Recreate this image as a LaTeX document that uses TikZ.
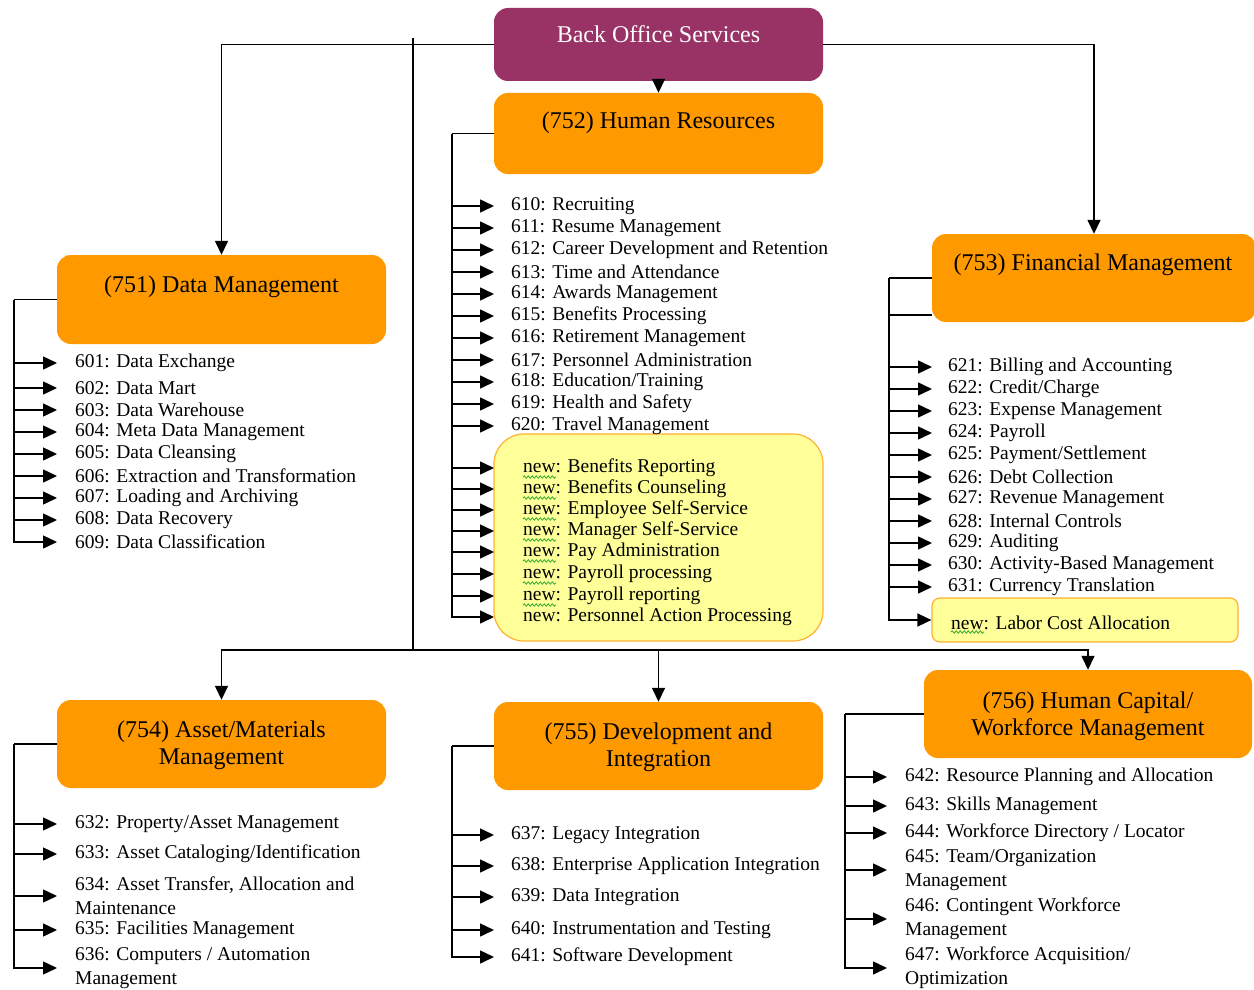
\documentclass[tikz,border=0pt]{standalone}
\usepackage{fontspec}
\setmainfont{Liberation Serif}
\usetikzlibrary{arrows.meta,decorations.pathmorphing,calc}
\definecolor{boxor}{HTML}{FF9900}
\definecolor{bospurple}{HTML}{993366}
\definecolor{newyel}{HTML}{FFFF99}
\definecolor{newbord}{HTML}{FFB030}
\definecolor{squig}{HTML}{33AA33}
\begin{document}
\begin{tikzpicture}[x=1pt,y=-1pt,
  catbox/.style={draw=none, fill=boxor, rounded corners=14pt, inner sep=0},
  title/.style={font=\fontsize{24}{27}\selectfont, align=center, inner sep=0, yshift=-3pt},
  item/.style={font=\fontsize{19.5}{24}\selectfont, anchor=west, inner sep=0, align=left, yshift=-2pt},
  conn/.style={line width=1.5pt, black},
  arr/.style={conn, -{Triangle[length=14pt,width=13pt]}},
  wavy/.style={draw=squig, line width=0.8pt, decorate, decoration={snake, amplitude=1.2pt, segment length=4pt}}
]
\useasboundingbox (0,0) rectangle (1254,990);
% boxes
\node[catbox, fill=bospurple, minimum width=329pt, minimum height=73pt] (bos) at (658.5,44.5) {};
\node[title, text=white] (bost) at (658.5,31) {Back Office Services};
\node[catbox, minimum width=329pt, minimum height=81pt] (hr) at (658.5,133.5) {};
\node[title] (hrt) at (658.5,120) {(752) Human Resources};
\node[catbox, minimum width=329pt, minimum height=89pt] (dm) at (221.5,299.5) {};
\node[title] (dmt) at (221.5,284) {(751) Data Management};
\node[catbox, minimum width=324pt, minimum height=88pt] (fm) at (1094,278) {};
\node[title] (fmt) at (1093,262) {(753) Financial Management};
\node[catbox, minimum width=329pt, minimum height=88pt] (am) at (221.5,744) {};
\node[title] (amt) at (221.5,742) {(754) Asset/Materials\\Management};
\node[catbox, minimum width=329pt, minimum height=88pt] (di) at (658.5,746) {};
\node[title] (dit) at (658.5,744) {(755) Development and\\Integration};
\node[catbox, minimum width=328pt, minimum height=88pt] (hc) at (1088,714) {};
\node[title] (hct) at (1088,713) {(756) Human Capital/\\Workforce Management};
\node[draw=newbord, line width=1.2pt, fill=newyel, rounded corners=30pt, minimum width=329pt, minimum height=207pt, inner sep=0] (yhr) at (658.5,537.5) {};
\node[draw=newbord, line width=1.2pt, fill=newyel, rounded corners=8pt, minimum width=306pt, minimum height=44pt, inner sep=0] (yfm) at (1085,620) {};

% top connectors
\draw[arr] (bos.west) -| (dm.north);
\draw[arr] (bos.east) -| (fm.north);
\draw[arr] (bos.south) -- (hr.north);
\coordinate (trunktop) at (413,38);
\coordinate (trunk) at (413,650);
\draw[conn] (trunktop) -- (trunk);
\draw[arr] (trunk) -| (am.north);
\draw[arr] (trunk) -| (di.north);
\draw[arr] (trunk) -| (hc.north);

% 751
\coordinate (dmbus) at (14,299.5);
\draw[conn] (dm.west) -- (dmbus);
\foreach \i/\y/\t in {1/361/{601: Data Exchange},2/386/{602: Data Mart},3/408/{603: Data Warehouse},4/430/{604: Meta Data Management},5/452/{605: Data Cleansing},6/474/{606: Extraction and Transformation},7/496/{607: Loading and Archiving},8/518/{608: Data Recovery},9/540/{609: Data Classification}}{
  \node[item] (d\i) at (75,\y) {\t};
  \draw[arr] (dmbus) |- ([xshift=-18pt]d\i.west);
}

% 752
\coordinate (hrbus) at (452,133.5);
\draw[conn] (hr.west) -- (hrbus);
\foreach \i/\y/\t in {0/204/{610: Recruiting},1/226/{611: Resume Management},2/248/{612: Career Development and Retention},3/270/{613: Time and Attendance},4/292/{614: Awards Management},5/314/{615: Benefits Processing},6/336/{616: Retirement Management},7/358/{617: Personnel Administration},8/380/{618: Education/Training},9/402/{619: Health and Safety},10/424/{620: Travel Management}}{
  \node[item] (h\i) at (511,\y) {\t};
  \draw[arr] (hrbus) |- ([xshift=-17pt]h\i.west);
}
\foreach \i/\y/\t in {1/466/{Benefits Reporting},2/487/{Benefits Counseling},3/508/{Employee Self-Service},4/529/{Manager Self-Service},5/550/{Pay Administration},6/572/{Payroll processing},7/594/{Payroll reporting},8/615/{Personnel Action Processing}}{
  \node[item] (n\i) at (523,\y) {new: \t};
  \draw[arr] (hrbus) |- ([xshift=-29pt]n\i.west);
}
\foreach \i in {1,...,7}{
  \draw[wavy] ([yshift=-9pt]n\i.west) -- ++(33,0);
}

% 753
\coordinate (fmbus) at (889,278);
\coordinate (fmstub) at (889,315);
\draw[conn] (fm.west) -- (fmbus);
\draw[conn] (fmstub) -- (fmstub -| fm.west);
\foreach \i/\y/\t in {1/365/{621: Billing and Accounting},2/387/{622: Credit/Charge},3/409/{623: Expense Management},4/431/{624: Payroll},5/453/{625: Payment/Settlement},6/475/{626: Debt Collection},7/497/{627: Revenue Management},8/519/{628: Internal Controls},9/541/{629: Auditing},10/563/{630: Activity-Based Management},11/585/{631: Currency Translation}}{
  \node[item] (f\i) at (948,\y) {\t};
  \draw[arr] (fmbus) |- ([xshift=-16pt]f\i.west);
}
\draw[arr] (fmbus) |- (yfm.west);
\node[item] (fnew) at (951,621) {new: Labor Cost Allocation};
\draw[wavy] ([yshift=-9pt]fnew.west) -- ++(33,0);

% 754
\coordinate (ambus) at (14,744);
\draw[conn] (am.west) -- (ambus);
\foreach \i/\y/\t in {1/822/{632: Property/Asset Management},2/852/{633: Asset Cataloging/Identification},3/894/{634: Asset Transfer, Allocation and\\Maintenance},4/928/{635: Facilities Management},5/966/{636: Computers / Automation\\Management}}{
  \node[item] (a\i) at (75,\y) {\t};
  \draw[arr] (ambus) |- ([xshift=-18pt]a\i.west);
}

% 755
\coordinate (dibus) at (452,746);
\draw[conn] (di.west) -- (dibus);
\foreach \i/\y/\t in {1/833/{637: Legacy Integration},2/864/{638: Enterprise Application Integration},3/895/{639: Data Integration},4/928/{640: Instrumentation and Testing},5/955/{641: Software Development}}{
  \node[item] (i\i) at (511,\y) {\t};
  \draw[arr] (dibus) |- ([xshift=-17pt]i\i.west);
}

% 756
\coordinate (hcbus) at (845,714);
\draw[conn] (hc.west) -- (hcbus);
\foreach \i/\y/\t in {1/775/{642: Resource Planning and Allocation},2/804/{643: Skills Management},3/831/{644: Workforce Directory / Locator},4/868/{645: Team/Organization\\Management},5/917/{646: Contingent Workforce\\Management},6/966/{647: Workforce Acquisition/\\Optimization}}{
  \node[item] (c\i) at (905,\y) {\t};
  \draw[arr] (hcbus) |- ([xshift=-18pt]c\i.west);
}
\end{tikzpicture}
\end{document}
